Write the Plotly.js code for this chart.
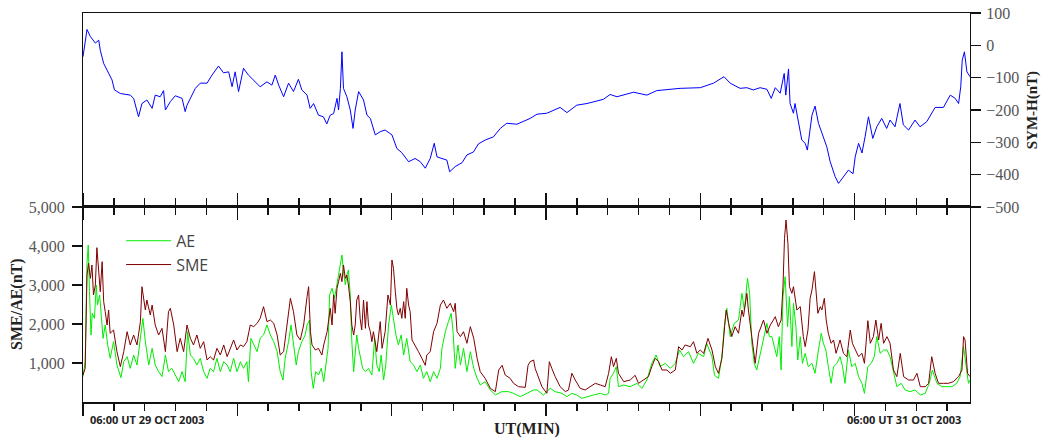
<!DOCTYPE html>
<html>
<head>
<meta charset="utf-8">
<script src="https://cdn.plot.ly/plotly-3.0.1.min.js"></script>
<style>
html,body{margin:0;padding:0;background:#fff;}
#chart{width:1041px;height:441px;}
</style>
</head>
<body>
<div id="chart"></div>
<script>
// time in minutes from the left edge of the window, values in nT
const symhTime = [0,13,24,40,51,56,67,82,94,102,121,153,164,180,191,207,224,234,250,261,267,283,299,321,331,337,364,380,402,418,439,455,472,483,493,504,520,536,553,574,596,612,623,634,650,666,682,698,709,726,736,747,763,779,790,801,812,823,828,834,839,844,855,866,875,882,893,909,920,931,947,963,979,1001,1017,1033,1055,1076,1093,1109,1125,1138,1147,1168,1179,1188,1206,1228,1244,1265,1281,1303,1330,1352,1373,1406,1449,1471,1503,1546,1568,1600,1633,1686,1708,1730,1784,1827,1859,1935,2000,2043,2077,2097,2129,2151,2172,2194,2216,2230,2243,2259,2272,2277,2286,2291,2302,2307,2318,2329,2340,2347,2362,2372,2383,2397,2410,2421,2437,2448,2464,2480,2495,2502,2513,2524,2534,2545,2559,2572,2588,2604,2615,2631,2647,2658,2675,2696,2712,2734,2761,2788,2810,2826,2837,2844,2849,2856,2864,2874];
const symhValues = [-35,49,27,7,16,-15,-56,-82,-107,-138,-149,-154,-164,-221,-180,-169,-195,-154,-159,-140,-200,-174,-156,-164,-205,-185,-133,-117,-117,-92,-64,-85,-82,-128,-82,-143,-71,-92,-107,-128,-113,-123,-92,-123,-159,-117,-143,-105,-138,-154,-195,-180,-216,-221,-243,-216,-211,-164,-200,-133,-20,-133,-159,-200,-257,-200,-143,-169,-216,-226,-277,-267,-262,-277,-319,-332,-360,-350,-360,-380,-350,-303,-345,-350,-355,-391,-375,-363,-339,-330,-305,-293,-283,-257,-241,-244,-226,-213,-210,-192,-208,-185,-180,-167,-152,-159,-145,-154,-140,-133,-131,-117,-97,-117,-133,-131,-138,-131,-136,-164,-131,-148,-87,-154,-73,-180,-210,-180,-236,-293,-303,-324,-216,-188,-241,-277,-314,-360,-406,-427,-406,-386,-397,-345,-303,-333,-283,-221,-288,-252,-226,-257,-231,-252,-180,-246,-262,-231,-252,-236,-192,-192,-154,-164,-180,-128,-45,-20,-82,-97];

// [minute, nT]
const smePoints = [[0,692],[7,863],[13,3256],[18,3556],[24,3171],[29,3513],[34,2744],[40,3000],[45,3957],[51,3427],[56,2829],[62,3598],[67,2573],[72,2316],[78,1974],[83,2359],[88,1761],[99,1846],[105,1547],[110,1291],[121,906],[132,1291],[143,1803],[153,1462],[164,1718],[175,1462],[186,2060],[191,2957],[202,2359],[207,2615],[218,2231],[224,2487],[234,1974],[245,1718],[256,1889],[267,1291],[277,2316],[283,2402],[294,1974],[305,1291],[315,1632],[326,1291],[337,1974],[348,1632],[358,1462],[369,1718],[380,1376],[391,1547],[402,1077],[412,1163],[423,1077],[434,1376],[445,1205],[456,1462],[467,1163],[477,1376],[488,1590],[499,1333],[510,1462],[520,1419],[531,1547],[542,1974],[553,1932],[564,2017],[574,2145],[585,2445],[596,2060],[607,2102],[618,2017],[629,1718],[639,1205],[650,1291],[661,1974],[672,2658],[682,2316],[693,1718],[704,1590],[715,1974],[726,2700],[731,2957],[737,1803],[742,1462],[753,1333],[763,1376],[774,1205],[780,1462],[791,1803],[801,2402],[807,1974],[812,2744],[817,2274],[823,2915],[828,3085],[834,3299],[839,3085],[844,3513],[850,3171],[855,3256],[860,3000],[866,2573],[871,1974],[877,1718],[882,1974],[887,2615],[893,2744],[898,2145],[903,1846],[909,2615],[915,1889],[920,2573],[925,1974],[931,1803],[936,1547],[941,1803],[952,1291],[963,2060],[969,1376],[979,1803],[988,2744],[996,2487],[1001,3641],[1006,3427],[1012,2829],[1017,2402],[1022,2231],[1028,2402],[1033,2145],[1039,2573],[1044,2145],[1049,2915],[1055,2487],[1060,2316],[1066,1590],[1076,1462],[1087,1291],[1098,1120],[1109,940],[1114,1205],[1125,1291],[1136,1803],[1147,2017],[1158,2487],[1168,2615],[1179,2402],[1190,2530],[1201,2316],[1206,2530],[1212,1803],[1223,1676],[1233,1803],[1244,1505],[1255,1932],[1266,1632],[1277,1120],[1287,778],[1303,607],[1320,350],[1336,265],[1347,820],[1358,940],[1368,692],[1384,607],[1395,479],[1411,393],[1433,376],[1442,940],[1449,1034],[1460,1077],[1465,863],[1471,735],[1487,393],[1503,222],[1511,1034],[1519,863],[1530,650],[1546,393],[1563,265],[1573,308],[1584,735],[1595,564],[1611,350],[1627,308],[1643,393],[1660,479],[1676,436],[1692,393],[1703,735],[1712,1162],[1719,906],[1728,1120],[1735,735],[1752,521],[1773,564],[1789,684],[1800,479],[1816,564],[1832,650],[1843,906],[1854,1120],[1865,1034],[1876,820],[1892,820],[1903,735],[1919,820],[1930,1419],[1941,1333],[1951,1462],[1968,1419],[1978,1547],[1989,1248],[2000,1333],[2011,1248],[2025,1632],[2038,1333],[2049,906],[2059,735],[2070,1120],[2079,1932],[2084,2359],[2092,2017],[2102,1676],[2113,1932],[2124,1761],[2135,2359],[2140,2188],[2151,2786],[2156,2359],[2167,1676],[2178,991],[2189,1761],[2205,2102],[2216,1761],[2227,1974],[2237,2102],[2243,2188],[2253,1932],[2262,2102],[2268,2957],[2273,4196],[2278,4666],[2284,4068],[2289,2957],[2297,2786],[2302,2957],[2308,2615],[2313,2359],[2324,2445],[2334,1676],[2340,1419],[2349,1846],[2356,2658],[2362,2872],[2370,3342],[2376,2786],[2381,2274],[2389,2445],[2394,2359],[2402,2658],[2408,2102],[2415,1761],[2424,1505],[2432,1590],[2440,1248],[2453,1590],[2464,1248],[2475,1162],[2486,1846],[2493,1505],[2502,1333],[2513,1162],[2524,1248],[2532,991],[2543,2085],[2551,1505],[2561,1676],[2569,2102],[2578,1590],[2586,2017],[2594,1505],[2605,1676],[2615,1505],[2626,820],[2637,650],[2648,1248],[2659,650],[2675,564],[2691,564],[2702,735],[2713,393],[2729,393],[2740,479],[2750,1162],[2761,735],[2772,479],[2788,479],[2804,479],[2820,521],[2837,650],[2848,820],[2853,1676],[2858,1590],[2866,735],[2874,650]];

const aePoints = [[0,651],[7,1034],[13,3573],[17,4025],[21,2829],[26,1718],[30,2274],[37,2145],[43,3000],[47,2487],[54,2744],[58,2231],[65,1632],[72,1974],[80,1462],[88,1120],[99,1547],[110,948],[123,624],[132,1034],[143,1163],[153,863],[164,1205],[175,948],[186,1718],[194,2145],[202,1547],[213,948],[224,1376],[234,948],[245,778],[256,651],[267,1205],[277,778],[288,863],[299,692],[310,521],[321,778],[331,521],[339,1803],[348,1205],[358,1120],[369,948],[380,1120],[391,778],[402,607],[412,863],[423,778],[434,1120],[445,778],[456,1034],[467,948],[477,778],[488,1120],[499,778],[510,1034],[520,863],[531,1034],[536,521],[544,1632],[553,1462],[564,1291],[574,1632],[585,1718],[596,1974],[607,1718],[618,1547],[629,1291],[639,778],[648,564],[655,1120],[666,1547],[674,1974],[682,1547],[691,948],[698,1291],[709,1547],[720,1718],[726,1974],[734,2102],[737,1462],[739,778],[746,350],[754,778],[763,692],[772,863],[780,521],[787,948],[794,1376],[799,2744],[807,2915],[815,2658],[823,3000],[831,3427],[839,3769],[844,3342],[850,3000],[855,3256],[860,3385],[866,2744],[871,1547],[877,778],[882,1291],[887,1718],[893,1376],[898,1205],[906,863],[915,778],[925,863],[936,692],[945,1632],[952,948],[960,778],[966,1205],[974,564],[981,948],[990,1974],[999,2487],[1006,2145],[1014,1718],[1022,1462],[1031,1718],[1039,1205],[1049,1632],[1060,1034],[1071,948],[1082,778],[1093,948],[1103,607],[1114,778],[1125,521],[1136,778],[1147,607],[1158,863],[1163,1376],[1174,1803],[1184,2060],[1193,2274],[1199,1803],[1206,863],[1215,1462],[1223,948],[1233,1376],[1244,778],[1255,1291],[1266,863],[1277,607],[1287,436],[1303,521],[1320,308],[1336,180],[1357,265],[1379,265],[1395,222],[1417,137],[1438,222],[1449,265],[1460,308],[1471,308],[1492,180],[1514,350],[1530,265],[1552,222],[1568,137],[1584,222],[1600,180],[1616,94],[1633,137],[1654,180],[1676,222],[1692,180],[1703,222],[1708,607],[1719,735],[1728,906],[1735,393],[1752,436],[1773,393],[1795,479],[1811,350],[1827,564],[1843,991],[1857,1205],[1870,906],[1886,991],[1903,863],[1919,991],[1933,1333],[1946,1162],[1962,1291],[1978,991],[1994,1248],[2011,1162],[2021,1505],[2038,1162],[2046,684],[2059,607],[2070,1162],[2079,2017],[2086,2402],[2097,1676],[2110,2017],[2124,2102],[2135,2786],[2143,2359],[2153,3171],[2160,2786],[2167,1505],[2175,991],[2183,820],[2192,1162],[2205,1676],[2216,2017],[2224,1676],[2232,1676],[2240,1419],[2248,1162],[2256,1676],[2262,820],[2268,2700],[2275,3213],[2283,1932],[2289,2700],[2297,1419],[2302,2530],[2310,1932],[2316,1077],[2324,1676],[2331,991],[2340,1248],[2350,906],[2362,991],[2372,735],[2383,1333],[2392,1761],[2399,1505],[2407,1333],[2415,906],[2424,479],[2432,906],[2443,991],[2453,1162],[2461,906],[2469,479],[2480,1333],[2491,906],[2502,991],[2513,650],[2524,479],[2532,222],[2543,906],[2554,991],[2564,1162],[2572,1676],[2583,1248],[2594,1333],[2605,1333],[2615,1162],[2624,820],[2637,393],[2651,479],[2664,308],[2680,265],[2696,308],[2713,180],[2729,222],[2742,479],[2752,820],[2767,479],[2783,393],[2800,393],[2816,393],[2831,479],[2842,650],[2853,1419],[2861,906],[2869,479],[2874,564]];

const lowerTicks = [1000, 2000, 3000, 4000, 5000];
const dateLabels = ["06:00 UT 29 OCT 2003", "06:00 UT 31 OCT 2003"];
const dateLabelTimes = [208, 2660];

const serif = "Liberation Serif, Times New Roman, serif";
const lineCol = "#111";

const traces = [
  {x: symhTime, y: symhValues, xaxis: "x2", yaxis: "y2", type: "scatter", mode: "lines",
   line: {color: "#0000ff", width: 1}, showlegend: false, name: "SYM-H"},
  {x: aePoints.map(p => p[0]), y: aePoints.map(p => p[1]), xaxis: "x", yaxis: "y", type: "scatter", mode: "lines",
   line: {color: "#00ee00", width: 1}, name: "AE"},
  {x: smePoints.map(p => p[0]), y: smePoints.map(p => p[1]), xaxis: "x", yaxis: "y", type: "scatter", mode: "lines",
   line: {color: "#800000", width: 1}, name: "SME"}
];

const xCommon = {
  range: [0, 2874], showline: true, linecolor: lineCol, linewidth: 1.5,
  ticks: "outside", ticklen: 12, tickwidth: 1.5, tickcolor: lineCol,
  tick0: 0, dtick: 500, showticklabels: false, showgrid: false, zeroline: false,
  minor: {tick0: 0, dtick: 100, ticks: "outside", ticklen: 7, tickwidth: 1.5, tickcolor: lineCol, showgrid: false}
};

const yTickFont = {family: serif, size: 16, color: "#555"};

const layout = {
  width: 1041, height: 441,
  margin: {l: 83, r: 71, t: 13, b: 39},
  paper_bgcolor: "#fff", plot_bgcolor: "#fff",
  showlegend: true,
  legend: {x: 0.043, y: 0.458, xanchor: "left", yanchor: "top", bgcolor: "rgba(0,0,0,0)",
           itemwidth: 45, tracegroupgap: 0,
           font: {family: "Open Sans, sans-serif", size: 16, color: "#444"}},
  xaxis: Object.assign({}, xCommon, {anchor: "y", domain: [0, 1], mirror: "ticks"}),
  xaxis2: Object.assign({}, xCommon, {anchor: "y2", domain: [0, 1], mirror: true, matches: "x"}),
  yaxis: {domain: [0, 0.5013], range: [0, 5000], tickvals: lowerTicks, tickformat: ",d",
          ticks: "outside", ticklen: 10, tickwidth: 1.5, tickcolor: lineCol,
          showline: true, linecolor: lineCol, linewidth: 1, mirror: true,
          showgrid: false, zeroline: false, tickfont: yTickFont, ticklabelstandoff: 4},
  yaxis2: {domain: [0.5013, 1], range: [-500, 100], dtick: 100, side: "right", anchor: "x2",
           ticks: "outside", ticklen: 10, tickwidth: 1.5, tickcolor: lineCol,
           showline: true, linecolor: lineCol, linewidth: 1, mirror: true,
           showgrid: false, zeroline: false, tickfont: yTickFont, ticklabelstandoff: 2},
  annotations: [
    {text: "<b>UT(MIN)</b>", xref: "paper", yref: "paper", x: 0.5, y: -0.069, xanchor: "center", yanchor: "middle",
     showarrow: false, font: {family: serif, size: 16, color: "#222"}},
    {text: "<b>SME/AE(nT)</b>", xref: "paper", yref: "paper", x: -0.0744, y: 0.252, xanchor: "center", yanchor: "middle",
     textangle: -90, showarrow: false, font: {family: serif, size: 16, color: "#222"}},
    {text: "<b>SYM-H(nT)</b>", xref: "paper", yref: "paper", x: 1.0699, y: 0.75, xanchor: "center", yanchor: "middle",
     textangle: -90, showarrow: false, font: {family: serif, size: 15, color: "#222"}},
    {text: "<b>" + dateLabels[0] + "</b>", xref: "x", yref: "paper", x: dateLabelTimes[0], y: -0.046, xanchor: "center", yanchor: "middle",
     showarrow: false, font: {family: "Open Sans, sans-serif", size: 11, color: "#222"}},
    {text: "<b>" + dateLabels[1] + "</b>", xref: "x", yref: "paper", x: dateLabelTimes[1], y: -0.046, xanchor: "center", yanchor: "middle",
     showarrow: false, font: {family: "Open Sans, sans-serif", size: 11, color: "#222"}}
  ]
};

Plotly.newPlot("chart", traces, layout, {displayModeBar: false, staticPlot: true});
</script>
</body>
</html>
